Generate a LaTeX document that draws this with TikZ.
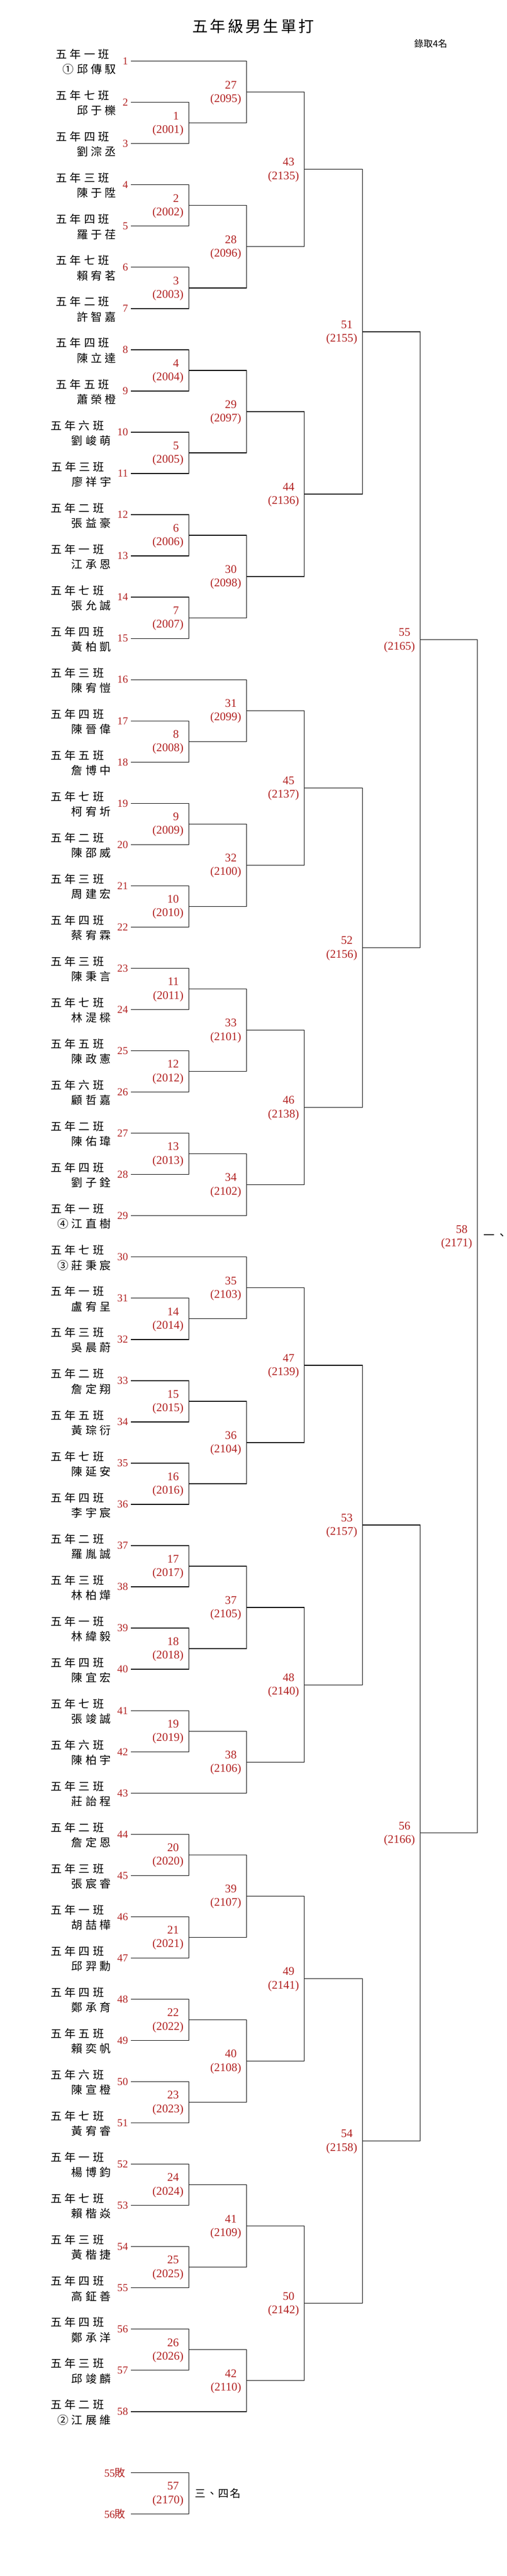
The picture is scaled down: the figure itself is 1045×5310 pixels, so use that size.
\documentclass[tikz,border=0pt]{standalone}
\usepackage{fontspec}
\usetikzlibrary{calc}
\newfontfamily\numfont{Liberation Serif}
\newfontfamily\cjk{Noto Sans CJK TC}
\definecolor{rd}{RGB}{178,34,34}
% letter-spaced text: \spread{kern}{chars}
\newcommand\spread[2]{\def\spreadk{\kern#1}\spreadA#2\spreadend}
\def\spreadA#1{#1\spreadB}
\def\spreadB#1{\ifx#1\spreadend\else\spreadk#1\expandafter\spreadB\fi}
\def\spreadend{\spreadend}
\tikzset{
  ln/.style={line width=1.4pt},
  pnum/.style={font=\numfont\fontsize{22}{22}\selectfont, text=rd, inner sep=0pt},
  mlab/.style={font=\numfont\fontsize{24}{24}\selectfont, text=rd, inner sep=0pt},
  nm/.style={font=\cjk\fontsize{23}{23}\selectfont, inner sep=0pt},
  nmsmall/.style={font=\cjk\fontsize{22}{22}\selectfont, inner sep=0pt},
  ttl/.style={font=\cjk\fontsize{32}{32}\selectfont, inner sep=0pt},
  note/.style={font=\cjk\fontsize{19}{19}\selectfont, inner sep=0pt}
}
\newcommand\player[3]{%
  \pgfmathsetmacro\py{126+(#1-1)*85}%
  \coordinate (p#1) at (270,\py);
  \node[pnum, anchor=east] (pn#1) at (264,\py) {#1};
  \node[nm, anchor=east] (pnm#1) at ([xshift=-13pt, yshift=-17pt]pn#1.west) {\spread{6pt}{#3}};
  \node[nm, anchor=east] (pc#1) at ([xshift=-14pt, yshift=31pt]pnm#1.east) {\spread{6pt}{#2}};
}
\newcommand\match[6]{%
  \draw[ln] (#2) -- (#2 -| #4) -- (#3 -| #4) -- (#3);
  \path (#2 -| #4) -- coordinate[pos=.5] (#1) (#3 -| #4);
  \node[mlab, anchor=east] (#1n) at ([xshift=-20pt, yshift=15pt]#1) {#5};
  \node[mlab, anchor=east] (#1c) at ([xshift=-10.5pt, yshift=-15pt]#1) {(#6)};
}
\begin{document}
\begin{tikzpicture}[x=1pt, y=-1pt]
\fill[white] (0,0) rectangle (1045,5310);
\useasboundingbox (0,0) rectangle (1045,5310);
\coordinate (c1) at (389,0);
\coordinate (c2) at (508,0);
\coordinate (c3) at (627,0);
\coordinate (c4) at (747,0);
\coordinate (c5) at (866,0);
\coordinate (c6) at (984,0);

\node[ttl] (title) at (522,54) {\spread{4.5pt}{五年級男生單打}};
\node[note] (quota) at (888,90) {錄取4名};

\player{1}{五年一班}{①邱傳馭}
\player{2}{五年七班}{邱于櫟}
\player{3}{五年四班}{劉淙丞}
\player{4}{五年三班}{陳于陞}
\player{5}{五年四班}{羅于荏}
\player{6}{五年七班}{賴宥茗}
\player{7}{五年二班}{許智嘉}
\player{8}{五年四班}{陳立達}
\player{9}{五年五班}{蕭榮橙}
\player{10}{五年六班}{劉峻萌}
\player{11}{五年三班}{廖祥宇}
\player{12}{五年二班}{張益豪}
\player{13}{五年一班}{江承恩}
\player{14}{五年七班}{張允誠}
\player{15}{五年四班}{黃柏凱}
\player{16}{五年三班}{陳宥愷}
\player{17}{五年四班}{陳晉偉}
\player{18}{五年五班}{詹博中}
\player{19}{五年七班}{柯宥圻}
\player{20}{五年二班}{陳邵威}
\player{21}{五年三班}{周建宏}
\player{22}{五年四班}{蔡宥霖}
\player{23}{五年三班}{陳秉言}
\player{24}{五年七班}{林湜樑}
\player{25}{五年五班}{陳政憲}
\player{26}{五年六班}{顧哲嘉}
\player{27}{五年二班}{陳佑瑋}
\player{28}{五年四班}{劉子銓}
\player{29}{五年一班}{④江直樹}
\player{30}{五年七班}{③莊秉宸}
\player{31}{五年一班}{盧宥呈}
\player{32}{五年三班}{吳晨蔚}
\player{33}{五年二班}{詹定翔}
\player{34}{五年五班}{黃琮衍}
\player{35}{五年七班}{陳延安}
\player{36}{五年四班}{李宇宸}
\player{37}{五年二班}{羅胤誠}
\player{38}{五年三班}{林柏燁}
\player{39}{五年一班}{林緯毅}
\player{40}{五年四班}{陳宜宏}
\player{41}{五年七班}{張竣誠}
\player{42}{五年六班}{陳柏宇}
\player{43}{五年三班}{莊詒程}
\player{44}{五年二班}{詹定恩}
\player{45}{五年三班}{張宸睿}
\player{46}{五年一班}{胡喆樺}
\player{47}{五年四班}{邱羿勳}
\player{48}{五年四班}{鄭承育}
\player{49}{五年五班}{賴奕帆}
\player{50}{五年六班}{陳宣橙}
\player{51}{五年七班}{黃宥睿}
\player{52}{五年一班}{楊博鈞}
\player{53}{五年七班}{賴楷焱}
\player{54}{五年三班}{黃楷捷}
\player{55}{五年四班}{高鉦善}
\player{56}{五年四班}{鄭承洋}
\player{57}{五年三班}{邱竣麟}
\player{58}{五年二班}{②江展維}

% round 1
\match{m1}{p2}{p3}{c1}{1}{2001}
\match{m2}{p4}{p5}{c1}{2}{2002}
\match{m3}{p6}{p7}{c1}{3}{2003}
\match{m4}{p8}{p9}{c1}{4}{2004}
\match{m5}{p10}{p11}{c1}{5}{2005}
\match{m6}{p12}{p13}{c1}{6}{2006}
\match{m7}{p14}{p15}{c1}{7}{2007}
\match{m8}{p17}{p18}{c1}{8}{2008}
\match{m9}{p19}{p20}{c1}{9}{2009}
\match{m10}{p21}{p22}{c1}{10}{2010}
\match{m11}{p23}{p24}{c1}{11}{2011}
\match{m12}{p25}{p26}{c1}{12}{2012}
\match{m13}{p27}{p28}{c1}{13}{2013}
\match{m14}{p31}{p32}{c1}{14}{2014}
\match{m15}{p33}{p34}{c1}{15}{2015}
\match{m16}{p35}{p36}{c1}{16}{2016}
\match{m17}{p37}{p38}{c1}{17}{2017}
\match{m18}{p39}{p40}{c1}{18}{2018}
\match{m19}{p41}{p42}{c1}{19}{2019}
\match{m20}{p44}{p45}{c1}{20}{2020}
\match{m21}{p46}{p47}{c1}{21}{2021}
\match{m22}{p48}{p49}{c1}{22}{2022}
\match{m23}{p50}{p51}{c1}{23}{2023}
\match{m24}{p52}{p53}{c1}{24}{2024}
\match{m25}{p54}{p55}{c1}{25}{2025}
\match{m26}{p56}{p57}{c1}{26}{2026}
% round 2
\match{m27}{p1}{m1}{c2}{27}{2095}
\match{m28}{m2}{m3}{c2}{28}{2096}
\match{m29}{m4}{m5}{c2}{29}{2097}
\match{m30}{m6}{m7}{c2}{30}{2098}
\match{m31}{p16}{m8}{c2}{31}{2099}
\match{m32}{m9}{m10}{c2}{32}{2100}
\match{m33}{m11}{m12}{c2}{33}{2101}
\match{m34}{m13}{p29}{c2}{34}{2102}
\match{m35}{p30}{m14}{c2}{35}{2103}
\match{m36}{m15}{m16}{c2}{36}{2104}
\match{m37}{m17}{m18}{c2}{37}{2105}
\match{m38}{m19}{p43}{c2}{38}{2106}
\match{m39}{m20}{m21}{c2}{39}{2107}
\match{m40}{m22}{m23}{c2}{40}{2108}
\match{m41}{m24}{m25}{c2}{41}{2109}
\match{m42}{m26}{p58}{c2}{42}{2110}
% round 3
\match{m43}{m27}{m28}{c3}{43}{2135}
\match{m44}{m29}{m30}{c3}{44}{2136}
\match{m45}{m31}{m32}{c3}{45}{2137}
\match{m46}{m33}{m34}{c3}{46}{2138}
\match{m47}{m35}{m36}{c3}{47}{2139}
\match{m48}{m37}{m38}{c3}{48}{2140}
\match{m49}{m39}{m40}{c3}{49}{2141}
\match{m50}{m41}{m42}{c3}{50}{2142}
% round 4
\match{m51}{m43}{m44}{c4}{51}{2155}
\match{m52}{m45}{m46}{c4}{52}{2156}
\match{m53}{m47}{m48}{c4}{53}{2157}
\match{m54}{m49}{m50}{c4}{54}{2158}
% semifinals
\match{m55}{m51}{m52}{c5}{55}{2165}
\match{m56}{m53}{m54}{c5}{56}{2166}
% final
\match{m58}{m55}{m56}{c6}{58}{2171}
\node[nm, anchor=west] (champ) at ([xshift=13pt]m58) {\spread{3pt}{一、}};

% third place
\coordinate (l55) at (270,5097);
\coordinate (l56) at (270,5182);
\node[pnum, anchor=east] (l55n) at (259,5097) {55{\cjk\fontsize{22}{22}\selectfont 敗}};
\node[pnum, anchor=east] (l56n) at (259,5182) {56{\cjk\fontsize{22}{22}\selectfont 敗}};
\match{m57}{l55}{l56}{c1}{57}{2170}
\node[nmsmall, anchor=west] (third) at ([xshift=13pt]m57) {\spread{2pt}{三、四名}};
\end{tikzpicture}
\end{document}
